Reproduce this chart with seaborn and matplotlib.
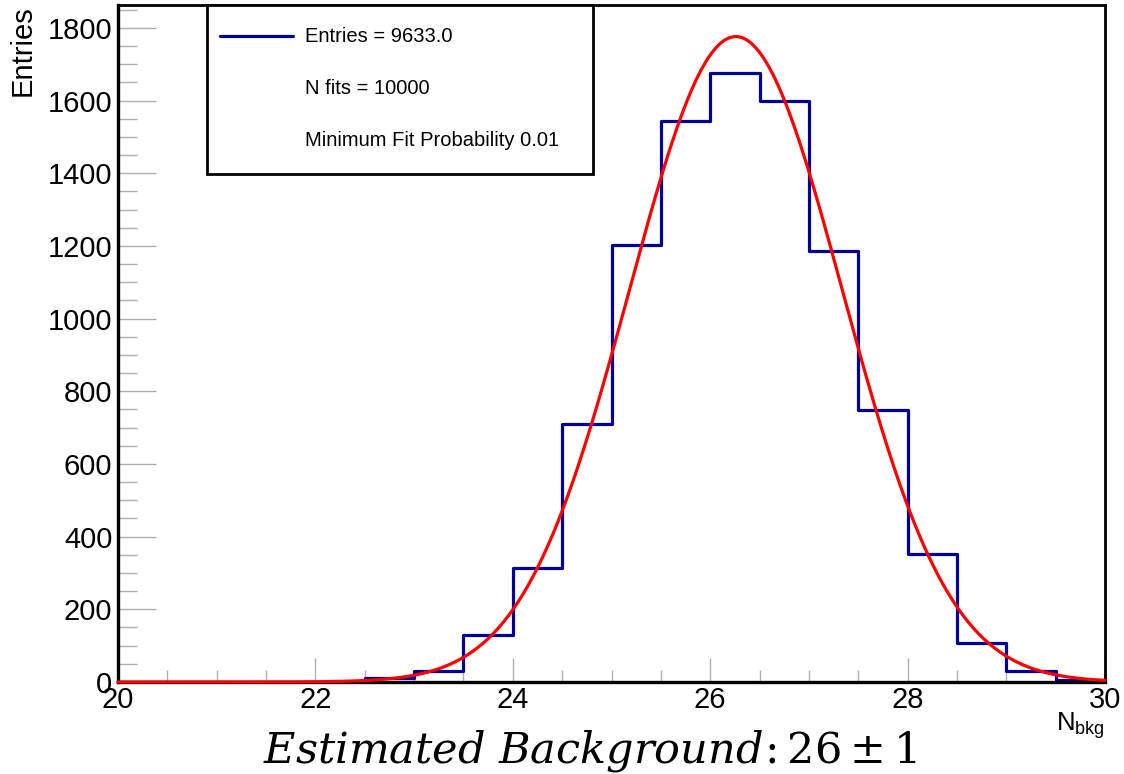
import numpy as np
import pandas as pd
import matplotlib
matplotlib.use("Agg")
import matplotlib.pyplot as plt
import seaborn as sns
from matplotlib.lines import Line2D
from matplotlib.patches import Rectangle
from matplotlib.ticker import MultipleLocator

# ---------------- data ----------------
bin_edges = [20.0, 20.5, 21.0, 21.5, 22.0, 22.5, 23.0, 23.5, 24.0, 24.5, 25.0,
             25.5, 26.0, 26.5, 27.0, 27.5, 28.0, 28.5, 29.0, 29.5, 30.0]
bin_counts = [0, 0, 0, 0, 0, 10, 30, 129, 314, 710, 1203,
              1544, 1677, 1600, 1186, 749, 352, 107, 30, 5]
# Gaussian fit parameters (amplitude, mean, sigma)
fit_amp = 1776.0
fit_mean = 26.26
fit_sigma = 1.08
legend_labels = ["Entries = 9633.0", "N fits = 10000", "Minimum Fit Probability 0.01"]
x_label = "N"
x_label_sub = "bkg"
y_label = "Entries"
footer = r"$Estimated\ Background\!:26\pm1$"

hist_color = "#000099"
fit_color = "#ff0000"

# ---------------- style ----------------
sns.set_theme(style="white")
plt.rcParams["font.family"] = ["Liberation Sans", "DejaVu Sans"]
plt.rcParams["mathtext.fontset"] = "custom"
plt.rcParams["mathtext.rm"] = "Liberation Sans"
plt.rcParams["mathtext.it"] = "Liberation Sans:italic"
for k in ["text.color", "axes.labelcolor", "xtick.labelcolor", "ytick.labelcolor"]:
    plt.rcParams[k] = "black"

W, H = 1124, 774
fig = plt.figure(figsize=(W / 100, H / 100), dpi=100)
ax = fig.add_axes([118 / W, 1 - 682 / H, (1105 - 118) / W, (682 - 5) / H])

centers = [(a + b) / 2 for a, b in zip(bin_edges[:-1], bin_edges[1:])]
df = pd.DataFrame({"x": centers, "w": bin_counts})
sns.histplot(data=df, x="x", weights="w", bins=bin_edges, element="step",
             fill=False, color=hist_color, linewidth=2.3, ax=ax)

xs = np.linspace(20, 30, 600)
fit_df = pd.DataFrame({"x": xs,
                       "y": fit_amp * np.exp(-0.5 * ((xs - fit_mean) / fit_sigma) ** 2)})
sns.lineplot(data=fit_df, x="x", y="y", color=fit_color, linewidth=2.3, ax=ax,
             zorder=5, clip_on=False)

ax.set_xlim(20, 30)
ax.set_ylim(0, 1863)
ax.xaxis.set_major_locator(MultipleLocator(2))
ax.xaxis.set_minor_locator(MultipleLocator(0.5))
ax.yaxis.set_major_locator(MultipleLocator(200))
ax.yaxis.set_minor_locator(MultipleLocator(50))

ax.tick_params(axis="x", which="major", direction="in", length=17, width=1,
               color="#b0b0b0", labelsize=21, pad=3, bottom=True)
ax.tick_params(axis="x", which="minor", direction="in", length=8.6, width=1,
               color="#b0b0b0", bottom=True)
ax.tick_params(axis="y", which="major", direction="in", length=27.6, width=1,
               color="#b0b0b0", labelsize=21, pad=4, left=True)
ax.tick_params(axis="y", which="minor", direction="in", length=13.8, width=1,
               color="#b0b0b0", left=True)
for s in ax.spines.values():
    s.set_visible(True)
    s.set_color("black")
    s.set_linewidth(2.0)
ax.spines["left"].set_linewidth(2.4)
ax.spines["bottom"].set_linewidth(2.4)

ax.set_ylabel(y_label, loc="top", fontsize=21, labelpad=8)
ax.set_xlabel(x_label + r"$_{\mathrm{" + x_label_sub + r"}}$", loc="right",
              fontsize=18.5, labelpad=-3)

# ---------------- legend box (ROOT style) ----------------
def ax_xy(px, py):
    return ((px - 118) / (1105 - 118), (682 - py) / (682 - 5))

x0, y0 = ax_xy(207, 174)
x1, y1 = ax_xy(593, 5)
ax.add_patch(Rectangle((x0, y0), x1 - x0, y1 - y0, transform=ax.transAxes,
                       facecolor="white", edgecolor="black", linewidth=2.0,
                       zorder=10, clip_on=False))
row_y = [36, 88, 140]
lx0, _ = ax_xy(220, 0)
lx1, _ = ax_xy(293, 0)
tx, _ = ax_xy(305, 0)
key = Line2D([lx0, lx1], [ax_xy(0, row_y[0])[1]] * 2, color=hist_color,
             linewidth=2.3, transform=ax.transAxes, zorder=11)
ax.add_line(key)
for lab, ry in zip(legend_labels, row_y):
    ax.text(tx, ax_xy(0, ry)[1], lab, transform=ax.transAxes, fontsize=14.5,
            ha="left", va="center", zorder=11)

fig.text(0.525, 0.030, footer, ha="center", va="center", fontsize=31,
         math_fontfamily="dejavuserif")

fig.savefig("out.png", dpi=100)
